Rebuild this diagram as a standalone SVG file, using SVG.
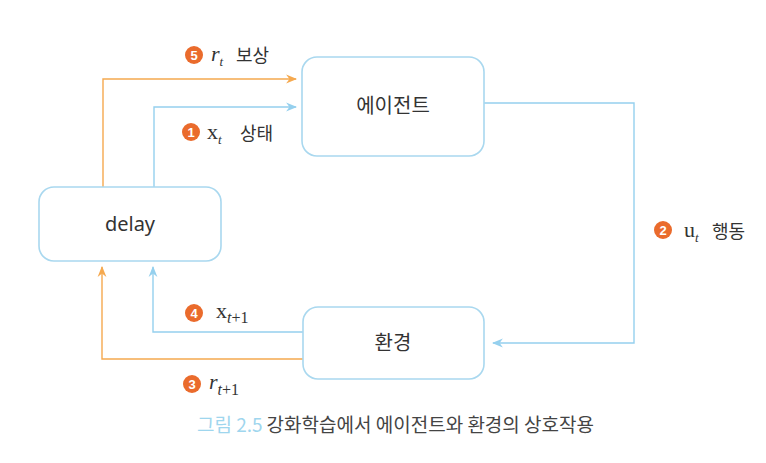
<svg xmlns="http://www.w3.org/2000/svg" width="766" height="463" viewBox="0 0 766 463">
<style>
.box{fill:#ffffff;stroke:#a9d8ef;stroke-width:1.6}
.ntext{font-family:"Noto Sans","Noto Sans CJK KR",sans-serif;font-size:20px;fill:#333;text-anchor:middle}
.blue{fill:none;stroke:#95d0ee;stroke-width:1.4}
.orange{fill:none;stroke:#f5a94f;stroke-width:1.4}
.num{fill:#ea6b2c}
.numt{font-family:"Liberation Sans",sans-serif;font-weight:bold;font-size:13px;fill:#fff;text-anchor:middle}
.math{font-family:"Liberation Serif",serif;fill:#333;font-size:22px}
.ko{font-family:"Noto Sans CJK KR",sans-serif;font-size:18px;fill:#333}
</style>
<defs>
<marker id="ab" viewBox="0 0 10 10" refX="9" refY="5" markerWidth="11" markerHeight="11" markerUnits="userSpaceOnUse" orient="auto"><path d="M0,1 L10,5 L0,9 L3,5 Z" fill="#95d0ee"/></marker>
<marker id="ao" viewBox="0 0 10 10" refX="9" refY="5" markerWidth="11" markerHeight="11" markerUnits="userSpaceOnUse" orient="auto"><path d="M0,1 L10,5 L0,9 L3,5 Z" fill="#f5a94f"/></marker>
</defs>
<rect width="766" height="463" fill="#ffffff"/>
<g id="connectors">
<path class="orange" d="M103,187 V79 H296" marker-end="url(#ao)"/>
<path class="blue" d="M154,187 V107 H296" marker-end="url(#ab)"/>
<path class="blue" d="M484,103 H634 V343 H493" marker-end="url(#ab)"/>
<path class="blue" d="M303,332 H153 V267" marker-end="url(#ab)"/>
<path class="orange" d="M303,359 H102 V267" marker-end="url(#ao)"/>
</g>
<g id="agent">
<rect class="box" x="302" y="57" width="182" height="99" rx="15"/>
<text class="ntext" x="393" y="113">에이전트</text>
</g>
<g id="delay">
<rect class="box" x="39" y="187" width="182" height="74" rx="15"/>
<text class="ntext" x="130" y="231">delay</text>
</g>
<g id="environment">
<rect class="box" x="303" y="307" width="181" height="72" rx="15"/>
<text class="ntext" x="393" y="350">환경</text>
</g>
<g id="labels">
<circle class="num" cx="194" cy="55" r="9"/><text class="numt" x="194" y="59.5">5</text>
<text class="math" x="211" y="61" font-style="italic">r<tspan font-size="13" dy="5">t</tspan></text>
<text class="ko" x="236" y="62">보상</text>

<circle class="num" cx="191" cy="132" r="9"/><text class="numt" x="191" y="136.5">1</text>
<text class="math" x="207" y="139">x<tspan font-size="13" font-style="italic" dy="5">t</tspan></text>
<text class="ko" x="240" y="140">상태</text>

<circle class="num" cx="663" cy="230" r="9"/><text class="numt" x="663" y="234.5">2</text>
<text class="math" x="684" y="237">u<tspan font-size="13" font-style="italic" dy="5">t</tspan></text>
<text class="ko" x="712" y="238">행동</text>

<circle class="num" cx="194" cy="313" r="9"/><text class="numt" x="194" y="317.5">4</text>
<text class="math" x="216" y="318">x<tspan font-size="16" font-style="italic" dy="5">t</tspan><tspan font-size="16">+1</tspan></text>

<circle class="num" cx="192" cy="384" r="9"/><text class="numt" x="192" y="388.5">3</text>
<text class="math" x="209" y="389" font-style="italic">r<tspan font-size="16" dy="6">t</tspan><tspan font-size="16" font-style="normal">+1</tspan></text>
</g>
<g id="caption">
<text x="197" y="432" font-family="Noto Sans CJK KR,sans-serif" font-size="19"><tspan fill="#9fd6ee">그림 2.5</tspan><tspan fill="#444" dx="4">강화학습에서 에이전트와 환경의 상호작용</tspan></text>
</g>
</svg>
